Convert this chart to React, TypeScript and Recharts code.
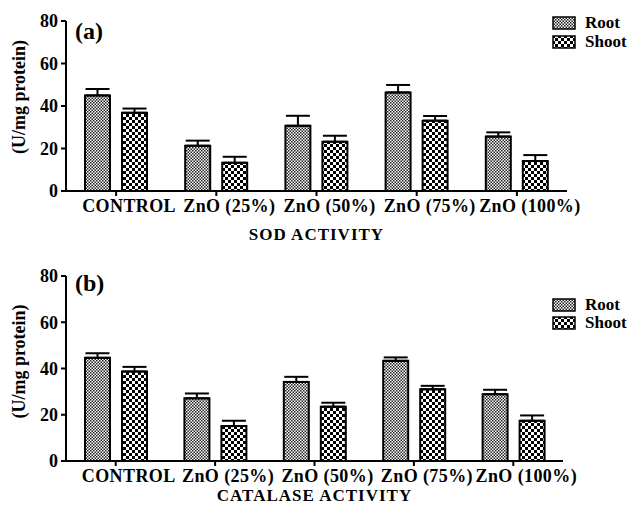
import React from 'react'
import { Bar, BarChart, XAxis, YAxis, ErrorBar, Legend } from 'recharts'

const categories = ['CONTROL', 'ZnO (25%)', 'ZnO (50%)', 'ZnO (75%)', 'ZnO (100%)']
const yTicks = [0, 20, 40, 60, 80]

// SOD activity (a)
const sodRoot = [45, 21.3, 30.7, 46.4, 25.6]
const sodRootErr = [3, 2.4, 4.7, 3.5, 2]
const sodShoot = [36.8, 13.3, 23.2, 33.1, 14.1]
const sodShootErr = [2, 2.8, 2.8, 2.2, 2.8]

// Catalase activity (b)
const catRoot = [44.6, 27.1, 34.2, 43.3, 28.9]
const catRootErr = [2, 2.1, 2.2, 1.5, 1.9]
const catShoot = [38.7, 15.1, 23.5, 31, 17.4]
const catShootErr = [2, 2.3, 1.7, 1.5, 2.3]

const font = '"Liberation Serif", "Times New Roman", serif'

function buildRows(root: number[], rootErr: number[], shoot: number[], shootErr: number[]) {
  return categories.map((name, i) => ({
    name,
    root: root[i],
    rootErr: [0, rootErr[i]],
    shoot: shoot[i],
    shootErr: [0, shootErr[i]],
  }))
}

const Patterns = () => (
  <defs>
    <pattern id="pRoot" width="3" height="3" patternUnits="userSpaceOnUse">
      <rect width="3" height="3" fill="#fff" />
      <rect width="1.5" height="1.5" fill="#222" />
      <rect x="1.5" y="1.5" width="1.5" height="1.5" fill="#222" />
    </pattern>
    <pattern id="pShoot" width="6" height="6" patternUnits="userSpaceOnUse">
      <rect width="6" height="6" fill="#fff" />
      <rect width="3" height="3" fill="#000" />
      <rect x="3" y="3" width="3" height="3" fill="#000" />
    </pattern>
  </defs>
)

const legendItems = [
  { label: 'Root', fill: 'url(#pRoot)' },
  { label: 'Shoot', fill: 'url(#pShoot)' },
]

const LegendBox = ({ gap }: { gap: number }) => (
  <div style={{ fontFamily: font, fontWeight: 'bold', fontSize: 17, color: '#000' }}>
    {legendItems.map((it) => (
      <div key={it.label} style={{ display: 'flex', alignItems: 'center', height: gap }}>
        <svg width={24} height={14} style={{ marginRight: 9 }}>
          <rect x={1} y={1} width={22} height={12} fill={it.fill} stroke="#000" strokeWidth={1.5} />
        </svg>
        <span>{it.label}</span>
      </div>
    ))}
  </div>
)

interface PanelProps {
  tag: string
  xLabel: string
  rows: ReturnType<typeof buildRows>
  height: number
  margin: { top: number; right: number; left: number; bottom: number }
  xHeight: number
  labelOffset: number
  legendTop: number
  legendGap: number
  yLabelShift: number
}

function Panel({ tag, xLabel, rows, height, margin, xHeight, labelOffset, legendTop, legendGap, yLabelShift }: PanelProps) {
  // category labels sit a little right of their tick marks in the original
  const xTickStyle = { fontFamily: font, fontWeight: 'bold', fontSize: 18, letterSpacing: 0.4, fill: '#000', dx: 13 }
  const yTickStyle = { fontFamily: font, fontWeight: 'bold', fontSize: 18, fill: '#000' }
  return (
    <BarChart width={632} height={height} data={rows} margin={margin} barSize={25} barGap={12}>
      <Patterns />
      <XAxis
        dataKey="name"
        height={xHeight}
        interval={0}
        tick={xTickStyle}
        tickSize={5}
        tickMargin={3}
        axisLine={{ stroke: '#000', strokeWidth: 2 }}
        tickLine={{ stroke: '#000', strokeWidth: 2 }}
        label={{
          value: xLabel,
          position: 'insideBottom',
          offset: labelOffset,
          style: { fontFamily: font, fontWeight: 'bold', fontSize: 17, letterSpacing: 1, fill: '#000' },
        }}
      />
      <YAxis
        width={66}
        domain={[0, 80]}
        ticks={yTicks}
        tick={yTickStyle}
        tickSize={5}
        tickMargin={3}
        axisLine={{ stroke: '#000', strokeWidth: 2 }}
        tickLine={{ stroke: '#000', strokeWidth: 2 }}
        label={{
          content: (props: any) => {
            const vb = props.viewBox || { y: 0, height: 0 }
            const x = 19
            const y = vb.y + vb.height / 2 - yLabelShift
            return (
              <text
                x={x}
                y={y}
                transform={`rotate(-90 ${x} ${y})`}
                textAnchor="middle"
                dominantBaseline="central"
                style={{ fontFamily: font, fontWeight: 'bold', fontSize: 18, fill: '#000' }}
              >
                (U/mg protein)
              </text>
            )
          },
        }}
      />
      <Legend
        layout="vertical"
        align="center"
        verticalAlign="middle"
        wrapperStyle={{ left: 552, top: legendTop, width: 80 }}
        content={() => <LegendBox gap={legendGap} />}
      />
      <Bar dataKey="root" name="Root" fill="url(#pRoot)" stroke="#000" strokeWidth={2} isAnimationActive={false}>
        <ErrorBar dataKey="rootErr" width={12} stroke="#000" strokeWidth={2} direction="y" />
      </Bar>
      <Bar dataKey="shoot" name="Shoot" fill="url(#pShoot)" stroke="#000" strokeWidth={2} isAnimationActive={false}>
        <ErrorBar dataKey="shootErr" width={12} stroke="#000" strokeWidth={2} direction="y" />
      </Bar>
      <text x={75} y={39} style={{ fontFamily: font, fontWeight: 'bold', fontSize: 24, fill: '#000' }}>
        {tag}
      </text>
    </BarChart>
  )
}

export default function App() {
  const sodRows = buildRows(sodRoot, sodRootErr, sodShoot, sodShootErr)
  const catRows = buildRows(catRoot, catRootErr, catShoot, catShootErr)
  return (
    <div style={{ position: 'absolute', left: 0, top: 0, width: 632, height: 505, background: '#fff' }}>
      <Panel
        tag="(a)"
        xLabel="SOD ACTIVITY"
        rows={sodRows}
        height={252}
        margin={{ top: 21, right: 65, left: 0, bottom: 0 }}
        xHeight={61}
        labelOffset={12}
        legendTop={13}
        legendGap={19}
        yLabelShift={9}
      />
      <Panel
        tag="(b)"
        xLabel="CATALASE ACTIVITY"
        rows={catRows}
        height={253}
        margin={{ top: 24, right: 69, left: 0, bottom: 0 }}
        xHeight={44}
        labelOffset={4}
        legendTop={44}
        legendGap={18}
        yLabelShift={7}
      />
    </div>
  )
}
